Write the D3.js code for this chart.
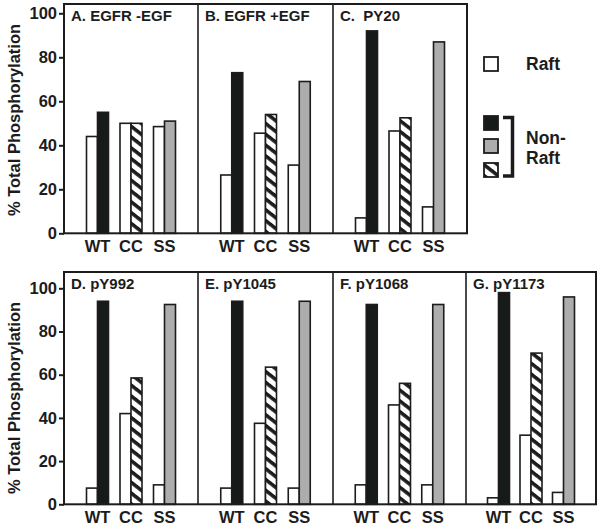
<!DOCTYPE html>
<html><head><meta charset="utf-8">
<script src="https://cdn.jsdelivr.net/npm/d3@7"></script>
<style>
html,body{margin:0;padding:0;background:#fff;}
svg{display:block;font-family:"Liberation Sans",Arial,Helvetica,sans-serif;font-weight:bold;}
</style></head>
<body>
<script>
// ---- data ----
const panelTitles = ["A. EGFR -EGF", "B. EGFR +EGF", "C.  PY20", "D. pY992", "E. pY1045", "F. pY1068", "G. pY1173"];
const strains = ["WT", "CC", "SS"];
const raftWT = [44, 26.5, 7, 7.5, 7.5, 9, 3];
const nonRaftWT = [55, 73, 92, 94, 94, 92.5, 98];
const raftCC = [50, 45.5, 46.5, 42, 37.5, 46, 32];
const nonRaftCC = [50, 54, 52.5, 58.5, 63.5, 56, 70];
const raftSS = [48.5, 31, 12, 9, 7.5, 9, 5.5];
const nonRaftSS = [51, 69, 87, 92.5, 94, 92.5, 96];
const yTicks = [0, 20, 40, 60, 80, 100];
const yLabel = "% Total Phosphorylation";
const legendRaft = "Raft";
const legendNonRaft = ["Non-", "Raft"];

// ---- layout ----
const W = 601, H = 529;
const rows = [
  {panels: [0, 1, 2], edges: [64, 198, 333, 467], top: 4, y0: 233.3, y100: 13.3, labelY: 251.5, yLabelC: 120},
  {panels: [3, 4, 5, 6], edges: [64, 198, 333, 466, 596], top: 272, y0: 504.3, y100: 288.3, labelY: 522.5, yLabelC: 398}
];
const barW = 11;
const INK = "#1c1c1c";
const fillNon = {WT: "#161a19", CC: "url(#hatch)", SS: "#adadad"};

const svg = d3.select("body").append("svg").attr("width", W).attr("height", H);
const defs = svg.append("defs");
const pat = defs.append("pattern").attr("id", "hatch").attr("patternUnits", "userSpaceOnUse")
  .attr("width", 20).attr("height", 8.5).attr("patternTransform", "rotate(38)");
pat.append("rect").attr("width", 20).attr("height", 8.5).attr("fill", "#fff");
pat.append("rect").attr("y", 0).attr("width", 20).attr("height", 3.6).attr("fill", INK);

const raftVals = {WT: raftWT, CC: raftCC, SS: raftSS};
const nonVals = {WT: nonRaftWT, CC: nonRaftCC, SS: nonRaftSS};

rows.forEach(row => {
  const y = d3.scaleLinear().domain([0, 100]).range([row.y0, row.y100]);
  const g = svg.append("g");
  row.panels.forEach((pi, k) => {
    const x0 = row.edges[k], x1 = row.edges[k + 1];
    const w = x1 - x0;
    const x = d3.scalePoint().domain(strains).range([x0 + w * 0.25, x0 + w * 0.75]);
    const pg = g.append("g");
    strains.forEach(s => {
      const cx = x(s);
      const rv = raftVals[s][pi], nv = nonVals[s][pi];
      pg.append("rect").attr("x", cx - barW).attr("y", y(rv)).attr("width", barW).attr("height", y(0) - y(rv))
        .attr("fill", "#fff").attr("stroke", INK).attr("stroke-width", 1.6);
      pg.append("rect").attr("x", cx).attr("y", y(nv)).attr("width", barW).attr("height", y(0) - y(nv))
        .attr("fill", fillNon[s]).attr("stroke", INK).attr("stroke-width", 1.6);
    });
    pg.selectAll("text.xl").data(strains).enter().append("text").attr("class", "xl")
      .attr("x", d => x(d)).attr("y", row.labelY).attr("text-anchor", "middle")
      .attr("font-size", 16.5).attr("fill", INK).text(d => d);
    pg.append("text").attr("x", x0 + 7).attr("y", row.top + 17).attr("font-size", 15).attr("fill", INK)
      .attr("xml:space", "preserve").style("white-space", "pre").text(panelTitles[pi]);
    if (k > 0) {
      g.append("line").attr("x1", x0).attr("x2", x0).attr("y1", row.top).attr("y2", row.y0)
        .attr("stroke", INK).attr("stroke-width", 1.6);
    }
  });
  // frame
  const L = row.edges[0], R = row.edges[row.edges.length - 1];
  g.append("rect").attr("x", L).attr("y", row.top).attr("width", R - L).attr("height", row.y0 - row.top)
    .attr("fill", "none").attr("stroke", INK).attr("stroke-width", 2);
  // axis
  const ax = g.append("g").attr("transform", `translate(${L},0)`)
    .call(d3.axisLeft(y).tickValues(yTicks).tickSize(5).tickPadding(2));
  ax.select(".domain").remove();
  ax.selectAll("line").attr("stroke", INK).attr("stroke-width", 2);
  ax.selectAll("text").attr("font-size", 16.5).attr("font-family", "Liberation Sans, Arial, sans-serif")
    .attr("font-weight", "bold").attr("fill", INK);
  // y label
  g.append("text").attr("transform", `translate(20,${row.yLabelC}) rotate(-90)`)
    .attr("text-anchor", "middle").attr("font-size", 16.5).attr("fill", INK).text(yLabel);
});

// legend
const lg = svg.append("g");
const box = 14;
lg.append("rect").attr("x", 484).attr("y", 57).attr("width", box).attr("height", box)
  .attr("fill", "#fff").attr("stroke", INK).attr("stroke-width", 1.8);
lg.append("text").attr("x", 526).attr("y", 70).attr("font-size", 17.5).attr("fill", INK).text(legendRaft);
const nonFills = [fillNon.WT, fillNon.SS, fillNon.CC];
const boxY = [116, 139, 163];
nonFills.forEach((f, i) => {
  lg.append("rect").attr("x", 484).attr("y", boxY[i]).attr("width", box).attr("height", box)
    .attr("fill", f).attr("stroke", INK).attr("stroke-width", 1.8);
});
lg.append("path").attr("d", "M503,117.5 H512.5 V176 H503").attr("fill", "none")
  .attr("stroke", INK).attr("stroke-width", 3.5);
legendNonRaft.forEach((t, i) => {
  lg.append("text").attr("x", 526).attr("y", 144 + i * 20).attr("font-size", 17.5).attr("fill", INK).text(t);
});
</script>
</body></html>
